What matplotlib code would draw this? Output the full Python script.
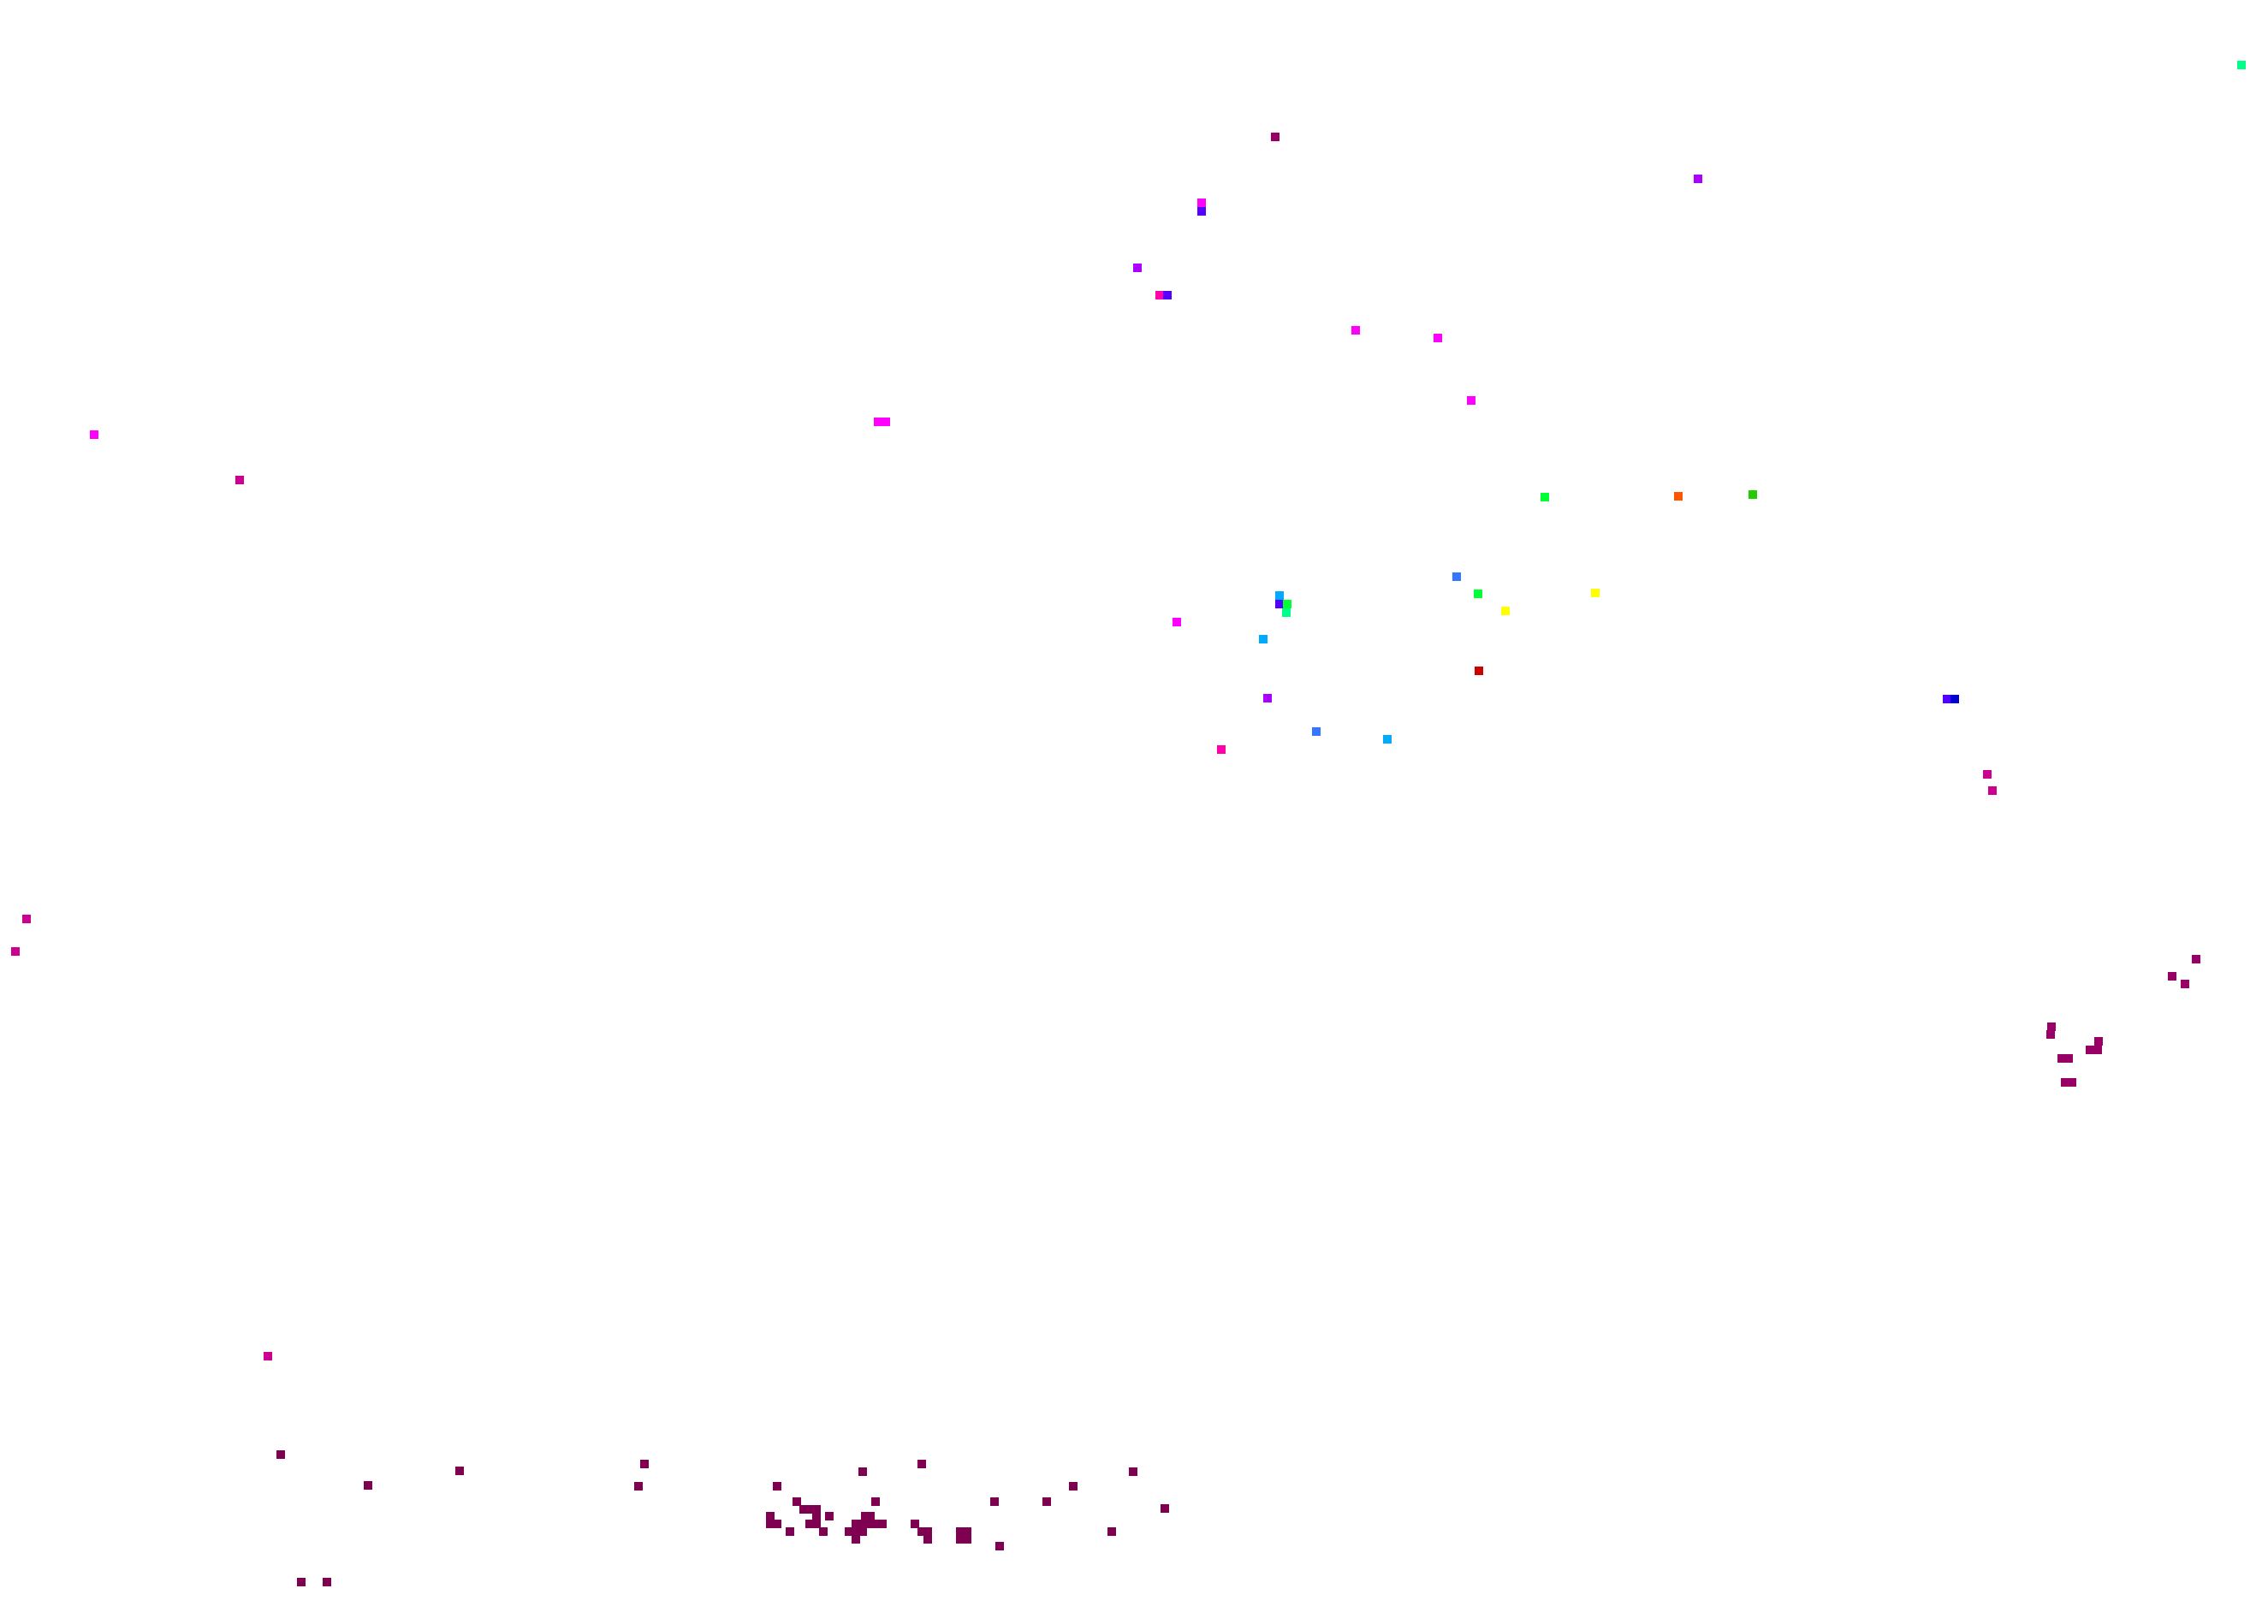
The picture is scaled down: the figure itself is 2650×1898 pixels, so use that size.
import matplotlib
matplotlib.use("Agg")
import matplotlib.pyplot as plt

# point positions (image grid units) and the group each point belongs to
x = [2619, 1490, 1404, 1404, 1329, 1355, 1364, 1584, 1680, 1719, 1984, 1026, 1035,
     110, 280, 1961, 2048,
     1805, 1702, 1495, 1495, 1504, 1503, 1727, 1864, 1759, 1375, 1476, 1728, 1481, 1538, 1621, 1427,
     2275, 2284, 2322, 2328,
     2566, 2538, 2553, 2397, 2396, 2452, 2442, 2451, 2409, 2417, 2413, 2421,
     31, 18, 313,
     328, 537, 430, 753, 746, 352, 382,
     1077, 1008, 1324, 908, 1254, 931, 1023, 1162, 1223, 1361,
     939, 946, 954,
     900, 954, 969, 1011, 1017,
     900, 908, 946, 954, 1000, 1008, 1015, 1023, 1031, 1069,
     923, 962, 992, 1000, 1008, 1077, 1084, 1122, 1130, 1299,
     1000, 1084, 1122, 1130,
     1168]
y = [77, 161, 238, 248, 314, 346, 346, 387, 396, 469, 210, 494, 494,
     509, 562, 581, 579,
     582, 675, 697, 707, 707, 717, 695, 694, 715, 728, 748, 785, 817, 856, 865, 877,
     818, 818, 906, 925,
     1122, 1142, 1151, 1201, 1210, 1218, 1228, 1228, 1238, 1238, 1266, 1266,
     1075, 1113, 1586,
     1701, 1720, 1737, 1712, 1738, 1850, 1850,
     1712, 1721, 1721, 1738, 1738, 1756, 1756, 1756, 1756, 1764,
     1765, 1765, 1765,
     1773, 1773, 1773, 1773, 1773,
     1782, 1782, 1782, 1782, 1782, 1782, 1782, 1782, 1782, 1782,
     1791, 1791, 1791, 1791, 1791, 1791, 1791, 1791, 1791, 1791,
     1800, 1800, 1800, 1800,
     1808]
group = ["spring", "wine", "magenta", "violet", "purple", "pink", "violet", "magenta", "magenta", "magenta", "purple", "magenta", "magenta",
         "magenta", "rose", "orange", "leaf",
         "green", "blue", "cyan", "violet", "green", "spring", "green", "yellow", "yellow", "magenta", "cyan", "red", "purple", "blue", "cyan", "pink",
         "violet", "navy", "rose", "rose",
         "wine", "wine", "wine", "wine", "wine", "wine", "wine", "wine", "wine", "wine", "wine", "wine",
         "rose", "rose", "rose"] + ["plum"] * 50

palette = {"spring": "#00ff88", "wine": "#990066", "magenta": "#ff00ff", "violet": "#5500ff",
           "purple": "#aa00ff", "pink": "#ff00aa", "rose": "#cc0090", "orange": "#ff5500",
           "leaf": "#22cc00", "green": "#00ff33", "blue": "#3377ff", "cyan": "#00aaff",
           "yellow": "#ffff00", "red": "#cc0000", "navy": "#0000cc", "plum": "#7f0050"}

fig = plt.figure(figsize=(26.5, 18.99), dpi=100)
ax = fig.add_axes([0, 0, 1, 1])
ax.scatter(x, y, c=[palette[g] for g in group], marker="s", s=42, linewidths=0)
ax.set_xlim(0, 2650)
ax.set_ylim(1899, 0)
ax.axis("off")

fig.savefig("out.png", dpi=100, facecolor="white")
